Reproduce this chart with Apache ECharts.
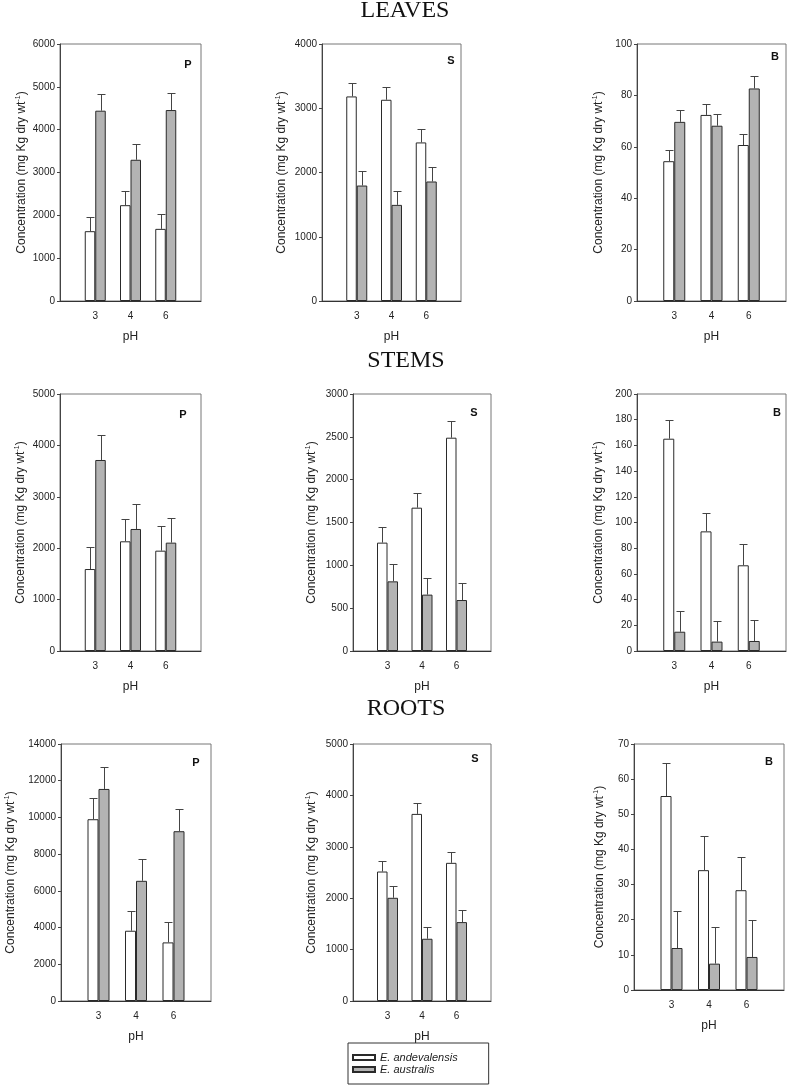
<!DOCTYPE html>
<html>
<head>
<meta charset="utf-8">
<script src="https://cdn.jsdelivr.net/npm/echarts@6/dist/echarts.min.js"></script>
<style>
html,body{margin:0;padding:0;background:#fff;}
#chart{width:789px;height:1086px;}
</style>
</head>
<body>
<div id="chart"></div>
<script>
// ---- DATA ----
const categories = ['3', '4', '6'];
const seriesNames = ['E. andevalensis', 'E. australis'];
const sectionTitles = ['LEAVES', 'STEMS', 'ROOTS'];
const elementLabels = ['P', 'S', 'B'];

// LEAVES
const leavesP_and = [1630, 2237, 1684];
const leavesP_andErr = [335, 335, 358];
const leavesP_aus = [4443, 3297, 4458];
const leavesP_ausErr = [382, 374, 390];

const leavesS_and = [3184, 3132, 2468];
const leavesS_andErr = [213, 203, 202];
const leavesS_aus = [1797, 1496, 1860];
const leavesS_ausErr = [229, 223, 228];

const leavesB_and = [54.4, 72.4, 60.7];
const leavesB_andErr = [4.3, 4.3, 4.3];
const leavesB_aus = [69.7, 68.2, 82.7];
const leavesB_ausErr = [4.6, 4.7, 4.8];

// STEMS
const stemsP_and = [1595, 2134, 1952];
const stemsP_andErr = [435, 428, 486];
const stemsP_aus = [3716, 2374, 2108];
const stemsP_ausErr = [480, 479, 480];

const stemsS_and = [1265, 1673, 2490];
const stemsS_andErr = [179, 175, 195];
const stemsS_aus = [813, 658, 595];
const stemsS_ausErr = [203, 194, 195];

const stemsB_and = [165.2, 93.1, 66.7];
const stemsB_andErr = [14.6, 14.6, 16.3];
const stemsB_aus = [15.0, 7.3, 7.8];
const stemsB_ausErr = [16.4, 16.3, 16.3];

// ROOTS
const rootsP_and = [9902, 3827, 3192];
const rootsP_andErr = [1179, 1070, 1088];
const rootsP_aus = [11552, 6547, 9249];
const rootsP_ausErr = [1197, 1197, 1215];

const rootsS_and = [2519, 3640, 2688];
const rootsS_andErr = [214, 220, 214];
const rootsS_aus = [2008, 1211, 1535];
const rootsS_ausErr = [239, 233, 233];

const rootsB_and = [55.2, 34.1, 28.4];
const rootsB_andErr = [9.5, 9.6, 9.5];
const rootsB_aus = [11.95, 7.5, 9.4];
const rootsB_ausErr = [10.5, 10.5, 10.6];

// y-axis scales (tick labels)
const yMax = [6000, 4000, 100, 5000, 3000, 200, 14000, 5000, 70];
const yStep = [1000, 1000, 20, 1000, 500, 20, 2000, 1000, 10];

// ---- LAYOUT ----
const panels = [
  {g:[60,44,141,257],  ng:30, bw:10.5, lx:188, ly:65,  d:[leavesP_and, leavesP_andErr, leavesP_aus, leavesP_ausErr], el:0},
  {g:[322,44,139,257], ng:33, bw:10.5, lx:451, ly:61,  d:[leavesS_and, leavesS_andErr, leavesS_aus, leavesS_ausErr], el:1},
  {g:[637,44,150,257], ng:31, bw:11,   lx:775, ly:57,  d:[leavesB_and, leavesB_andErr, leavesB_aus, leavesB_ausErr], el:2},
  {g:[60,394,141,257], ng:32, bw:10.5, lx:183, ly:415, d:[stemsP_and, stemsP_andErr, stemsP_aus, stemsP_ausErr], el:0},
  {g:[353,394,138,257],ng:34, bw:10.5, lx:474, ly:413, d:[stemsS_and, stemsS_andErr, stemsS_aus, stemsS_ausErr], el:1},
  {g:[637,394,150,257],ng:31, bw:11,   lx:777, ly:413, d:[stemsB_and, stemsB_andErr, stemsB_aus, stemsB_ausErr], el:2},
  {g:[61,744,150,257], ng:43, bw:11,   lx:196, ly:763, d:[rootsP_and, rootsP_andErr, rootsP_aus, rootsP_ausErr], el:0},
  {g:[353,744,138,257],ng:34, bw:10.5, lx:475, ly:759, d:[rootsS_and, rootsS_andErr, rootsS_aus, rootsS_ausErr], el:1},
  {g:[634,744,150,246],ng:27, bw:11,   lx:769, ly:762, d:[rootsB_and, rootsB_andErr, rootsB_aus, rootsB_ausErr], el:2}
];
const titlePos = [[405, 11], [406, 361], [406, 709]];

const FONT = "'Liberation Sans', Arial, sans-serif";
const axisCats = [''].concat(categories, ['']);
const WHITE = '#ffffff', GRAY = '#b3b3b3', EDGE = '#2a2a2a', ERR = '#444444';

function errRender(sign, bw) {
  return function (params, api) {
    const x = api.value(0), v = api.value(1), e = api.value(2);
    const p0 = api.coord([x, v]);
    const p1 = api.coord([x, v + e]);
    const cx = Math.round(p0[0] + sign * bw / 2) + 0.5;
    const hw = Math.round(bw * 0.38);
    const yt = Math.round(p1[1]) + 0.5;
    const style = {stroke: ERR, lineWidth: 1};
    return {type: 'group', children: [
      {type: 'line', shape: {x1: cx, y1: p0[1], x2: cx, y2: yt}, style: style},
      {type: 'line', shape: {x1: cx - hw, y1: yt, x2: cx + hw, y2: yt}, style: style}
    ]};
  };
}

const grids = [], xAxes = [], yAxes = [], series = [], graphics = [];
panels.forEach(function (p, i) {
  grids.push({left: p.g[0], top: p.g[1], width: p.g[2], height: p.g[3],
    show: true, borderColor: '#777', borderWidth: 1, backgroundColor: 'transparent'});
  xAxes.push({type: 'category', gridIndex: i, data: axisCats, boundaryGap: false,
    name: 'pH', nameLocation: 'middle', nameGap: 30,
    nameTextStyle: {fontFamily: FONT, fontSize: 12, color: '#222'},
    axisLine: {lineStyle: {color: '#333', width: 1}},
    axisTick: {show: false},
    axisLabel: {interval: 0, margin: 10, fontFamily: FONT, fontSize: 10, color: '#222'},
    splitLine: {show: false}});
  yAxes.push({type: 'value', gridIndex: i, min: 0, max: yMax[i], interval: yStep[i],
    name: '{n|Concentration (mg Kg dry wt}{sup|-1}{n|)}', nameLocation: 'middle', nameGap: p.ng, nameRotate: 90,
    nameTextStyle: {fontFamily: FONT, fontSize: 12, color: '#222',
      rich: {
        n: {fontFamily: FONT, fontSize: 12, color: '#222', lineHeight: 14},
        sup: {fontFamily: FONT, fontSize: 7, color: '#222', lineHeight: 14, padding: [0, 0, 7, 0]}
      }},
    axisLine: {show: true, lineStyle: {color: '#444', width: 1}},
    axisTick: {show: true, length: 3, inside: false, lineStyle: {color: '#444'}},
    axisLabel: {margin: 5, fontFamily: FONT, fontSize: 10, color: '#222',
      formatter: function (v) { return String(v); }},
    splitLine: {show: false}});
  const andV = [null].concat(p.d[0], [null]);
  const ausV = [null].concat(p.d[2], [null]);
  series.push({type: 'bar', name: seriesNames[0], xAxisIndex: i, yAxisIndex: i, data: andV,
    barWidth: p.bw, barGap: '0%', itemStyle: {color: WHITE, borderColor: EDGE, borderWidth: 1}, z: 2});
  series.push({type: 'bar', name: seriesNames[1], xAxisIndex: i, yAxisIndex: i, data: ausV,
    barWidth: p.bw, barGap: '0%', itemStyle: {color: GRAY, borderColor: EDGE, borderWidth: 1}, z: 2});
  series.push({type: 'custom', xAxisIndex: i, yAxisIndex: i, renderItem: errRender(-1, p.bw),
    data: categories.map(function (c, k) { return [k + 1, p.d[0][k], p.d[1][k]]; }),
    encode: {x: 0, y: 1}, z: 3, silent: true});
  series.push({type: 'custom', xAxisIndex: i, yAxisIndex: i, renderItem: errRender(1, p.bw),
    data: categories.map(function (c, k) { return [k + 1, p.d[2][k], p.d[3][k]]; }),
    encode: {x: 0, y: 1}, z: 3, silent: true});
  graphics.push({type: 'text', x: p.lx, y: p.ly, z: 10,
    style: {text: elementLabels[p.el], font: 'bold 11px ' + FONT, fill: '#111', align: 'center', verticalAlign: 'middle'}});
});
sectionTitles.forEach(function (t, i) {
  graphics.push({type: 'text', x: titlePos[i][0], y: titlePos[i][1], z: 10,
    style: {text: t, font: "24px 'Liberation Serif', 'Times New Roman', serif", fill: '#111', align: 'center', verticalAlign: 'middle'}});
});

const chart = echarts.init(document.getElementById('chart'), null, {renderer: 'canvas'});
chart.setOption({
  animation: false,
  backgroundColor: '#fff',
  grid: grids,
  xAxis: xAxes,
  yAxis: yAxes,
  series: series,
  graphic: graphics,
  legend: {
    data: seriesNames, orient: 'vertical', left: 348, top: 1043,
    padding: [9, 31, 9, 4], itemGap: 1, itemWidth: 22, itemHeight: 5, icon: 'rect',
    borderColor: '#333', borderWidth: 1,
    textStyle: {fontFamily: FONT, fontSize: 11, fontStyle: 'italic', color: '#222', lineHeight: 10},
    selectedMode: false
  }
});
</script>
</body>
</html>
